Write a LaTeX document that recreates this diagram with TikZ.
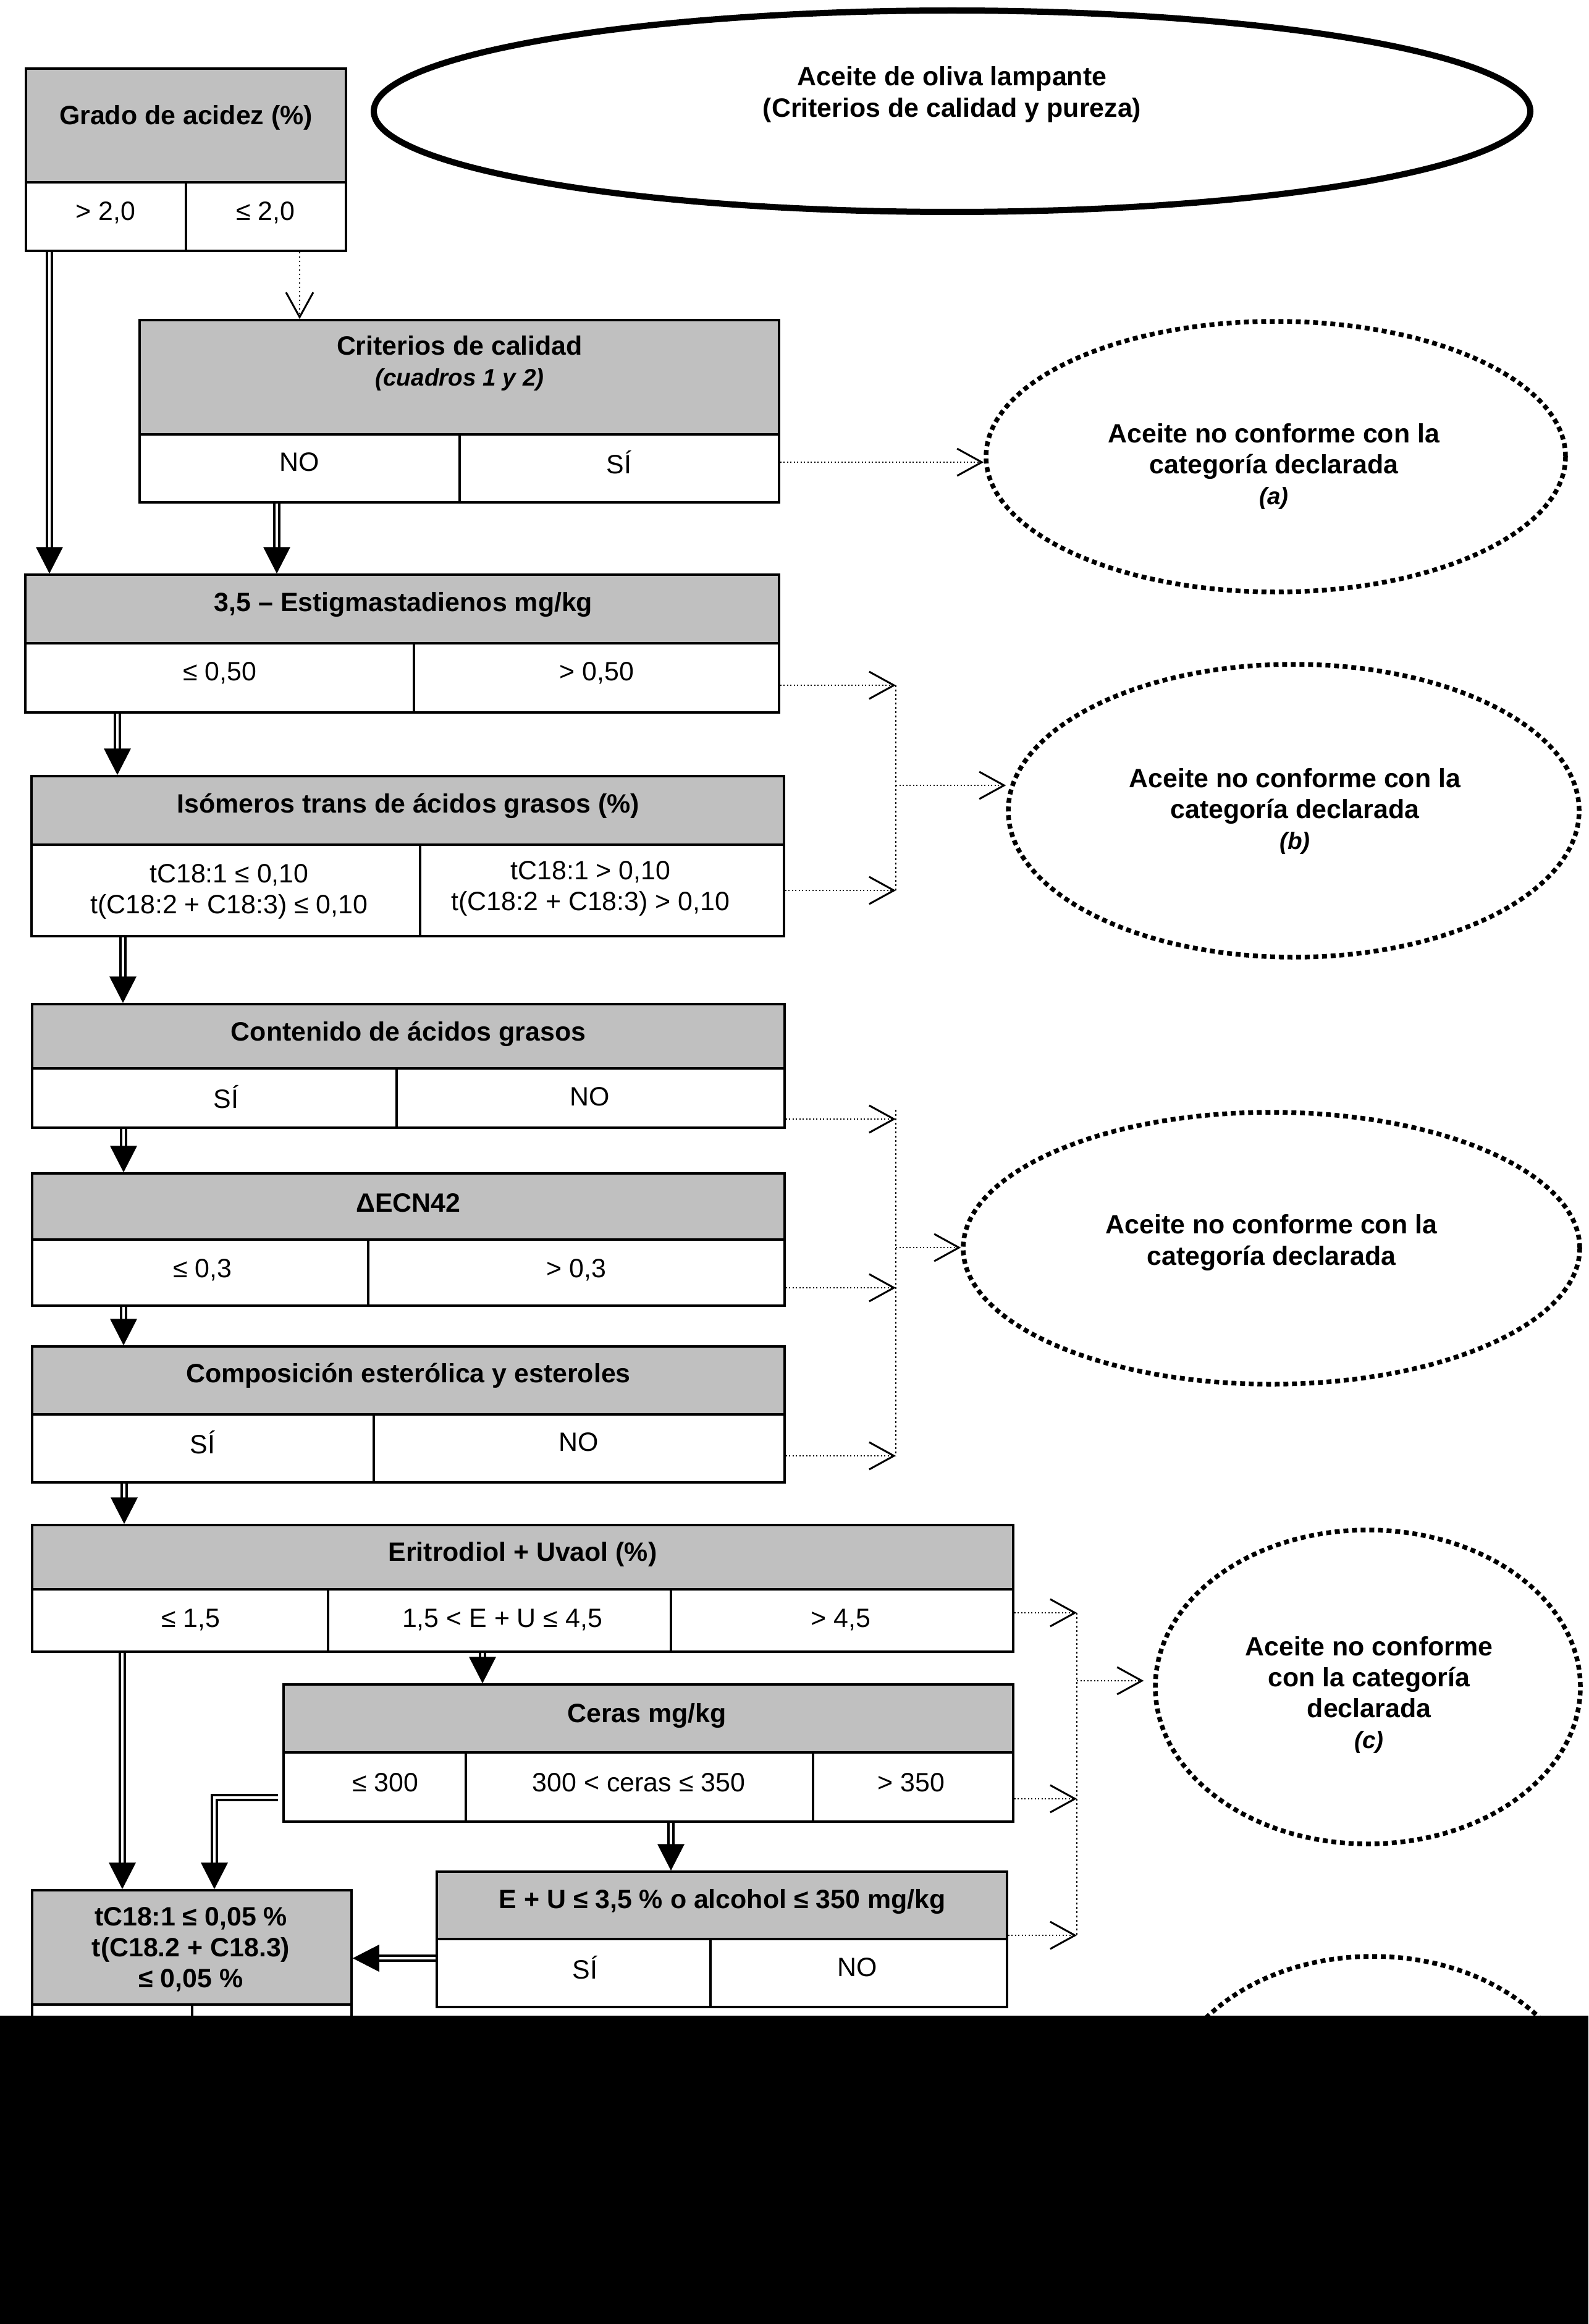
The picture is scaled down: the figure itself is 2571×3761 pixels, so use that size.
\documentclass[tikz,border=0pt]{standalone}
\usepackage{fontspec}
\setmainfont{Liberation Sans}
\usetikzlibrary{arrows.meta,shapes.geometric,fit}
\definecolor{boxgrey}{RGB}{192,192,192}
\newcommand\fsA{\fontsize{12.2pt}{14.3pt}\selectfont}
\newcommand\fsB{\fontsize{11pt}{14.3pt}\selectfont}
\begin{document}
\begin{tikzpicture}[x=0.1mm,y=-0.1mm,
 hdr/.style={draw, line width=0.35mm, fill=boxgrey, inner sep=0pt},
 cel/.style={draw, line width=0.35mm, fill=white, inner sep=0pt},
 bt/.style={font=\fsA\bfseries, align=center, inner sep=0pt},
 rt/.style={font=\fsA, align=center, inner sep=0pt},
 dbl/.style={double, double distance=0.45mm, line width=0.38mm, -{Triangle[length=4.3mm,width=4.3mm]}},
 dotarr/.style={line width=0.28mm, dash pattern=on 0.2mm off 0.35mm, -{Straight Barb[length=4mm,width=4.4mm,line width=0.3mm]}},
 thindotarr/.style={line width=0.15mm, dash pattern=on 0.25mm off 0.45mm, -{Straight Barb[length=4mm,width=4.4mm,line width=0.3mm]}},
 bus/.style={line width=0.15mm, dash pattern=on 0.25mm off 0.45mm},
 okell/.style={ellipse, draw, line width=1mm, inner sep=0pt},
 noell/.style={ellipse, draw, line width=0.75mm, dash pattern=on 0.8mm off 0.6mm, inner sep=0pt},
]
\useasboundingbox (0,0) rectangle (2571,3761);
\fill[white] (0,0) rectangle (2571,3761);

% top ellipse
\node[okell, minimum width=187.2mm, minimum height=32.6mm] (e0) at (1541,180) {};
\node[bt] (t0) at (1541,153) {Aceite de oliva lampante\\(Criterios de calidad y pureza)};

% box 1
\node[hdr, fit={(42,111) (560,295)}] (b1h) {};
\node[cel, fit={(42,295) (301,406)}] (b1a) {};
\node[cel, fit={(301,295) (560,406)}] (b1b) {};
\node[bt] (t1h) at (301,190) {Grado de acidez (\%)};
\node[rt] (t1a) at (171,344) {> 2,0};
\node[rt] (t1b) at (430,344) {≤ 2,0};

% box 2
\node[hdr, fit={(226,518) (1261,703)}] (b2h) {};
\node[cel, fit={(226,703) (744,813)}] (b2a) {};
\node[cel, fit={(744,703) (1261,813)}] (b2b) {};
\node[bt] (t2h) at (744,588) {Criterios de calidad\\{\fsB\itshape (cuadros 1 y 2)}};
\node[rt] (t2a) at (485,748) {NO};
\node[rt] (t2b) at (1002,748) {SÍ};

% box 3
\node[hdr, fit={(41,930) (1261,1041)}] (b3h) {};
\node[cel, fit={(41,1041) (670,1153)}] (b3a) {};
\node[cel, fit={(670,1041) (1261,1153)}] (b3b) {};
\node[bt] (t3h) at (653,979) {3,5 -- Estigmastadienos mg/kg};
\node[rt] (t3a) at (356,1089) {≤ 0,50};
\node[rt] (t3b) at (966,1089) {> 0,50};

% box 4
\node[hdr, fit={(51,1256) (1269,1367)}] (b4h) {};
\node[cel, fit={(51,1367) (680,1515)}] (b4a) {};
\node[cel, fit={(680,1367) (1269,1515)}] (b4b) {};
\node[bt] (t4h) at (661,1304) {Isómeros trans de ácidos grasos (\%)};
\node[rt] (t4a) at (371,1443) {tC18:1 ≤ 0,10\\t(C18:2 + C18:3) ≤ 0,10};
\node[rt] (t4b) at (956,1438) {tC18:1 > 0,10\\t(C18:2 + C18:3) > 0,10};

% box 5
\node[hdr, fit={(52,1625) (1270,1729)}] (b5h) {};
\node[cel, fit={(52,1729) (642,1825)}] (b5a) {};
\node[cel, fit={(642,1729) (1270,1825)}] (b5b) {};
\node[bt] (t5h) at (661,1673) {Contenido de ácidos grasos};
\node[rt] (t5a) at (366,1775) {SÍ};
\node[rt] (t5b) at (955,1775) {NO};

% box 6
\node[hdr, fit={(52,1899) (1270,2006)}] (b6h) {};
\node[cel, fit={(52,2006) (596,2113)}] (b6a) {};
\node[cel, fit={(596,2006) (1270,2113)}] (b6b) {};
\node[bt] (t6h) at (661,1947) {ΔECN42};
\node[rt] (t6a) at (328,2055) {≤ 0,3};
\node[rt] (t6b) at (933,2055) {> 0,3};

% box 7
\node[hdr, fit={(52,2179) (1270,2289)}] (b7h) {};
\node[cel, fit={(52,2289) (605,2399)}] (b7a) {};
\node[cel, fit={(605,2289) (1270,2399)}] (b7b) {};
\node[bt] (t7h) at (661,2226) {Composición esterólica y esteroles};
\node[rt] (t7a) at (328,2334) {SÍ};
\node[rt] (t7b) at (937,2334) {NO};

% box 8
\node[hdr, fit={(52,2468) (1640,2572)}] (b8h) {};
\node[cel, fit={(52,2572) (531,2673)}] (b8a) {};
\node[cel, fit={(531,2572) (1086,2673)}] (b8b) {};
\node[cel, fit={(1086,2572) (1640,2673)}] (b8c) {};
\node[bt] (t8h) at (846,2515) {Eritrodiol + Uvaol (\%)};
\node[rt] (t8a) at (309,2621) {≤ 1,5};
\node[rt] (t8b) at (813,2621) {1,5 < E + U ≤ 4,5};
\node[rt] (t8c) at (1361,2621) {> 4,5};

% box 9
\node[hdr, fit={(459,2726) (1640,2836)}] (b9h) {};
\node[cel, fit={(459,2836) (754,2948)}] (b9a) {};
\node[cel, fit={(754,2836) (1316,2948)}] (b9b) {};
\node[cel, fit={(1316,2836) (1640,2948)}] (b9c) {};
\node[bt] (t9h) at (1047,2776) {Ceras mg/kg};
\node[rt] (t9a) at (624,2885) {≤ 300};
\node[rt] (t9b) at (1034,2885) {300 < ceras ≤ 350};
\node[rt] (t9c) at (1475,2885) {> 350};

% box 10
\node[hdr, fit={(707,3029) (1630,3138)}] (b10h) {};
\node[cel, fit={(707,3138) (1150,3248)}] (b10a) {};
\node[cel, fit={(1150,3138) (1630,3248)}] (b10b) {};
\node[bt] (t10h) at (1169,3077) {E + U ≤ 3,5 \% o alcohol ≤ 350 mg/kg};
\node[rt] (t10a) at (947,3184) {SÍ};
\node[rt] (t10b) at (1388,3184) {NO};

% box 11
\node[hdr, fit={(52,3059) (569,3244)}] (b11h) {};
\node[cel, fit={(52,3244) (311,3330)}] (b11a) {};
\node[cel, fit={(311,3244) (569,3330)}] (b11b) {};
\node[bt] (t11h) at (309,3155) {tC18:1 ≤ 0,05 \%\\t(C18.2 + C18.3)\\≤ 0,05 \%};

% non-conformity ellipses
\node[noell, minimum width=93.8mm, minimum height=43.8mm] (ea) at (2065,739) {};
\node[bt] (tea) at (2062,755) {Aceite no conforme con la\\categoría declarada\\{\fsB\itshape (a)}};
\node[noell, minimum width=92.4mm, minimum height=47.4mm] (eb) at (2094,1312) {};
\node[bt] (teb) at (2096,1313) {Aceite no conforme con la\\categoría declarada\\{\fsB\itshape (b)}};
\node[noell, minimum width=99.8mm, minimum height=44.0mm] (e3) at (2058,2020) {};
\node[bt] (te3) at (2058,2011) {Aceite no conforme con la\\categoría declarada};
\node[noell, minimum width=68.8mm, minimum height=50.8mm] (ec) at (2214,2730) {};
\node[bt] (tec) at (2216,2743) {Aceite no conforme\\con la categoría\\declarada\\{\fsB\itshape (c)}};
\node[noell, minimum width=68.0mm, minimum height=50.8mm] (ed) at (2222,3420) {};

% double arrows
\draw[dbl] (80,0 |- b1a.south) -- (80,0 |- b3h.north);
\draw[dbl] (448,0 |- b2a.south) -- (448,0 |- b3h.north);
\draw[dbl] (190,0 |- b3a.south) -- (190,0 |- b4h.north);
\draw[dbl] (199,0 |- b4a.south) -- (199,0 |- b5h.north);
\draw[dbl] (200,0 |- b5a.south) -- (200,0 |- b6h.north);
\draw[dbl] (200,0 |- b6a.south) -- (200,0 |- b7h.north);
\draw[dbl] (201,0 |- b7a.south) -- (201,0 |- b8h.north);
\draw[dbl] (198,0 |- b8a.south) -- (198,0 |- b11h.north);
\draw[dbl] (781,0 |- b8b.south) -- (781,0 |- b9h.north);
\draw[dbl] (1086,0 |- b9b.south) -- (1086,0 |- b10h.north);
\draw[dbl, shorten <=0.7mm] (b9a.west |- 0,2909) -- (347,2909) -- (347,0 |- b11h.north);
\draw[dbl] (b10a.west |- 0,3169) -- (b11h.east |- 0,3169);

% dotted arrows
\draw[thindotarr] (485,0 |- b1b.south) -- (485,0 |- b2h.north);
\draw[dotarr] (b2b.east |- 0,748) -- (ea.west |- 0,748);

\coordinate (bb1) at (1450,1109);
\coordinate (bb2) at (1450,1441);
\coordinate (bbm) at (1450,1271);
\draw[dotarr] (b3b.east |- bb1) -- (bb1);
\draw[dotarr] (b4b.east |- bb2) -- (bb2);
\draw[bus] (bb1) -- (bb2);
\draw[dotarr] (bbm) -- (eb.west |- bbm);

\coordinate (bc0) at (1450,1796);
\coordinate (bc1) at (1450,1811);
\coordinate (bc2) at (1450,2084);
\coordinate (bc3) at (1450,2356);
\coordinate (bcm) at (1450,2019);
\draw[dotarr] (b5b.east |- bc1) -- (bc1);
\draw[dotarr] (b6b.east |- bc2) -- (bc2);
\draw[dotarr] (b7b.east |- bc3) -- (bc3);
\draw[bus] (bc0) -- (bc3);
\draw[dotarr] (bcm) -- (e3.west |- bcm);

\coordinate (bd1) at (1743,2610);
\coordinate (bd2) at (1743,2911);
\coordinate (bd3) at (1743,3132);
\coordinate (bdm) at (1743,2720);
\draw[dotarr] (b8c.east |- bd1) -- (bd1);
\draw[dotarr] (b9c.east |- bd2) -- (bd2);
\draw[dotarr] (b10b.east |- bd3) -- (bd3);
\draw[bus] (bd1) -- (bd3);
\draw[dotarr, shorten >=1.5mm] (bdm) -- (ec.west |- bdm);

% black band at the bottom
\fill[black] (0,3262) rectangle (2571,3761);
\end{tikzpicture}
\end{document}
